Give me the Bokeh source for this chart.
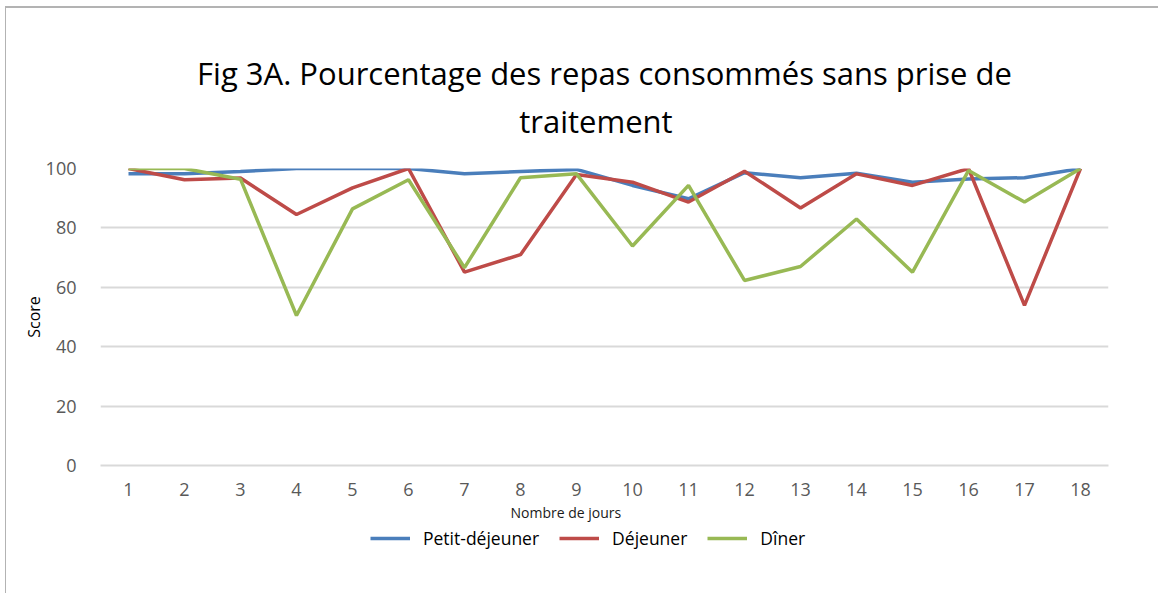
from bokeh.plotting import figure
from bokeh.layouts import column
from bokeh.models import Title, Legend, LegendItem, FixedTicker, Range1d
from bokeh.embed import file_html
from bokeh.resources import INLINE

# ---- data ----
days = list(range(1, 19))
day_labels = [str(d) for d in days]
petit_dejeuner = [98.2, 98.2, 99.0, 100, 100, 100, 98.2, 99.0, 99.7, 94.3, 89.8, 98.6, 96.9, 98.4, 95.4, 96.5, 96.9, 100]
dejeuner = [100, 96.2, 96.8, 84.5, 93.5, 100, 65.1, 71.0, 98.0, 95.4, 88.7, 99.1, 86.7, 98.2, 94.3, 100, 53.9, 100]
diner = [100, 100, 96.4, 50.5, 86.4, 96.2, 66.6, 96.9, 98.2, 73.9, 94.3, 62.3, 67.0, 83.0, 65.1, 99.3, 88.7, 100]
y_ticks = [0, 20, 40, 60, 80, 100]
series_names = ["Petit-déjeuner", "Déjeuner", "Dîner"]
colors = ["#4a7ebb", "#be4b48", "#98b954"]
title_line1 = "Fig 3A. Pourcentage des repas consommés sans prise de"
title_line2 = "traitement"

FONT = "Open Sans"
FIG_W = 1152
series = [petit_dejeuner, dejeuner, diner]

p = figure(frame_width=1008, frame_height=297,
           x_range=Range1d(0.5, 18.5), y_range=Range1d(0, 100),
           output_backend="svg", toolbar_location=None,
           min_border_left=94, min_border_right=50,
           min_border_top=160, min_border_bottom=55)
p.outline_line_color = None
p.background_fill_color = "white"
p.border_fill_color = "white"

# two-line title (second line padded with no-break spaces to sit centred)
p.title.text = title_line1 + "\n" + "\u00a0" * 40 + title_line2
p.title.align = "center"
p.title.text_font = FONT
p.title.text_font_size = "31px"
p.title.text_font_style = "normal"
p.title.text_color = "#000000"
p.title.text_line_height = 1.16
p.title.standoff = 52

# grid
p.xgrid.visible = False
p.ygrid.grid_line_color = "#d9d9d9"
p.ygrid.grid_line_width = 2

# y axis
p.yaxis.ticker = FixedTicker(ticks=y_ticks)
p.yaxis.axis_line_color = None
p.yaxis.major_tick_line_color = None
p.yaxis.minor_tick_line_color = None
p.yaxis.major_label_text_font = FONT
p.yaxis.major_label_text_font_size = "18px"
p.yaxis.major_label_text_color = "#595959"
p.yaxis.major_label_standoff = 18
p.yaxis.axis_label = "Score"
p.yaxis.axis_label_text_font = FONT
p.yaxis.axis_label_text_font_size = "16px"
p.yaxis.axis_label_text_font_style = "normal"
p.yaxis.axis_label_text_color = "#000000"
p.yaxis.axis_label_standoff = -2

# x axis
p.xaxis.ticker = FixedTicker(ticks=days)
p.xaxis.major_label_overrides = {d: s for d, s in zip(days, day_labels)}
p.xaxis.axis_line_color = "#d9d9d9"
p.xaxis.axis_line_width = 2
p.xaxis.major_tick_line_color = None
p.xaxis.minor_tick_line_color = None
p.xaxis.major_label_text_font = FONT
p.xaxis.major_label_text_font_size = "18px"
p.xaxis.major_label_text_color = "#595959"
p.xaxis.major_label_standoff = 11

p.add_layout(Title(text="Nombre de jours", align="left", offset=410,
                   text_font=FONT, text_font_size="14px", text_font_style="normal",
                   text_color="#1a1a1a", standoff=4), "below")

# lines
for vals, c in zip(series, colors):
    p.line(days, vals, line_color=c, line_width=3.5)

# legend strip below the chart (its series lie outside its view; only the legend shows)
pl = figure(width=FIG_W, height=70, x_range=Range1d(0, 1), y_range=Range1d(0, 1),
            output_backend="svg", toolbar_location=None,
            x_axis_location=None, y_axis_location=None,
            min_border_left=0, min_border_right=0, min_border_top=0, min_border_bottom=0)
pl.grid.visible = False
pl.outline_line_color = None
pl.background_fill_color = "white"
pl.border_fill_color = "white"
leg_renderers = [pl.line(days, vals, line_color=c, line_width=3.5) for vals, c in zip(series, colors)]
legend = Legend(items=[LegendItem(label=n, renderers=[r]) for n, r in zip(series_names, leg_renderers)],
                orientation="horizontal", location=(270, 43),
                border_line_color=None, background_fill_alpha=0,
                label_text_font=FONT, label_text_font_size="17.5px", label_text_color="#000000",
                glyph_width=40, glyph_height=20, label_standoff=13, spacing=20,
                padding=0, margin=0)
pl.add_layout(legend, "center")

layout = column(p, pl, spacing=0)
layout.styles = {"border-top": "2px solid #b3b3b3", "border-left": "1px solid #b3b3b3",
                 "margin-left": "5px", "margin-top": "6px"}

open("out.html", "w").write(file_html(layout, INLINE))
